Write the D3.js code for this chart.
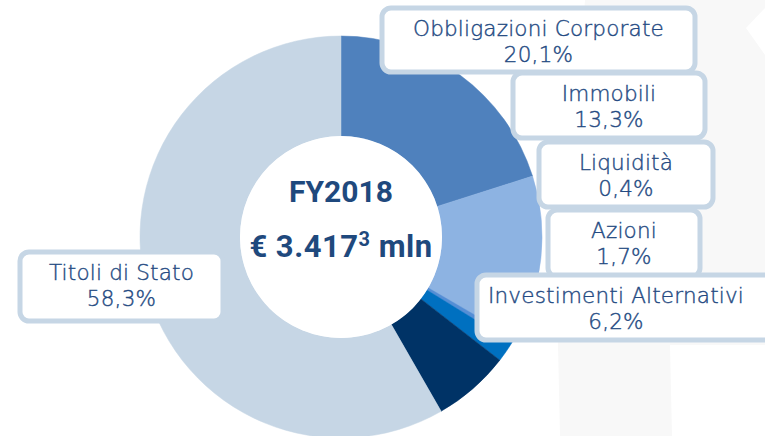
<!DOCTYPE html>
<html>
  <head>
    <meta charset="utf-8">
    <title>FY2018 asset allocation</title>
    <style>
      body { margin: 0; background: #fff; }
      svg { display: block; }
    </style>
  </head>
  <body>
    <script src="https://cdn.jsdelivr.net/npm/d3@7/dist/d3.min.js" charset="utf-8"></script>
    <script type="text/javascript">
      // data, clockwise from 12 o'clock
      var categories = ["Obbligazioni Corporate", "Immobili", "Liquidità", "Azioni", "Investimenti Alternativi", "Titoli di Stato"];
      var values = [20.1, 13.3, 0.4, 1.7, 6.2, 58.3];
      var colors = ["#4f81bd", "#8db3e2", "#558ed5", "#0070c0", "#003366", "#c6d6e5"];
      var centerTitle = "FY2018";
      var centerTotal = "€ 3.417";

      // label boxes: x, y, w, h (layout only)
      var boxes = [
        [382, 8, 313, 64],
        [513, 73, 192, 65],
        [539, 142, 174, 65],
        [548, 210, 152, 67],
        [477, 275, 300, 65],
        [20, 252, 203, 69]
      ];

      var width = 765;
      var height = 436;
      var cx = 341, cy = 237;

      var it = d3.formatLocale({ decimal: ",", thousands: ".", grouping: [3], currency: ["€", ""] });
      var pct = it.format(".1f");

      var svg = d3.select("body")
                  .append("svg")
                  .attr("width", width)
                  .attr("height", height);

      // faint watermark on the right
      svg.append("path")
         .attr("d", "M585,0 L765,0 L765,8 L746,28 L765,55 L765,345 L670,345 L672,436 L560,436 L558,345 Z")
         .attr("fill", "#f8f8f8");

      var pie = d3.pie().sort(null).value(function(d) { return d; });
      var arc = d3.arc().innerRadius(101).outerRadius(201);

      var g = svg.append("g").attr("transform", "translate(" + cx + "," + cy + ")");

      g.selectAll("path.slice")
       .data(pie(values))
       .enter()
       .append("path")
       .attr("class", "slice")
       .attr("d", arc)
       .attr("fill", function(d, i) { return colors[i]; })
       .attr("stroke", function(d, i) { return colors[i]; })
       .attr("stroke-width", 0.5);

      g.append("circle").attr("r", 101).attr("fill", "#fff");

      g.append("text")
       .attr("y", -35)
       .attr("text-anchor", "middle")
       .attr("font-family", "Roboto, Arial, sans-serif")
       .attr("font-weight", "bold")
       .attr("font-size", 30)
       .attr("fill", "#1f497d")
       .text(centerTitle);

      var t2 = g.append("text")
       .attr("y", 20)
       .attr("text-anchor", "middle")
       .attr("font-family", "Roboto, Arial, sans-serif")
       .attr("font-weight", "bold")
       .attr("font-size", 31)
       .attr("letter-spacing", 0.5)
       .attr("fill", "#1f497d");
      t2.append("tspan").text(centerTotal);
      t2.append("tspan").attr("dy", -11).attr("font-size", 20).text("3");
      t2.append("tspan").attr("dy", 11).text(" mln");

      // label boxes
      var labels = svg.selectAll("g.label")
                      .data(categories)
                      .enter()
                      .append("g")
                      .attr("class", "label");

      labels.append("rect")
            .attr("x", function(d, i) { return boxes[i][0]; })
            .attr("y", function(d, i) { return boxes[i][1]; })
            .attr("width", function(d, i) { return boxes[i][2]; })
            .attr("height", function(d, i) { return boxes[i][3]; })
            .attr("rx", 9)
            .attr("fill", "#fff")
            .attr("stroke", "#c6d6e5")
            .attr("stroke-width", 5);

      function midX(i) {
        return boxes[i][0] + Math.min(boxes[i][2], width - boxes[i][0]) / 2 + (i === 4 ? -5 : 0);
      }

      var lt = labels.append("text")
            .attr("text-anchor", "middle")
            .attr("font-family", "'DejaVu Sans', Verdana, sans-serif")
            .attr("font-weight", 300)
            .attr("font-size", 21.5)
            .attr("letter-spacing", 0.2)
            .attr("fill", "#244a82")
            .attr("stroke", "#244a82")
            .attr("stroke-width", 0.4);

      lt.append("tspan")
        .attr("x", function(d, i) { return midX(i); })
        .attr("y", function(d, i) { return boxes[i][1] + 28; })
        .text(function(d) { return d; });
      lt.append("tspan")
        .attr("x", function(d, i) { return midX(i); })
        .attr("y", function(d, i) { return boxes[i][1] + 54; })
        .text(function(d, i) { return pct(values[i]) + "%"; });
    </script>
  </body>
</html>
